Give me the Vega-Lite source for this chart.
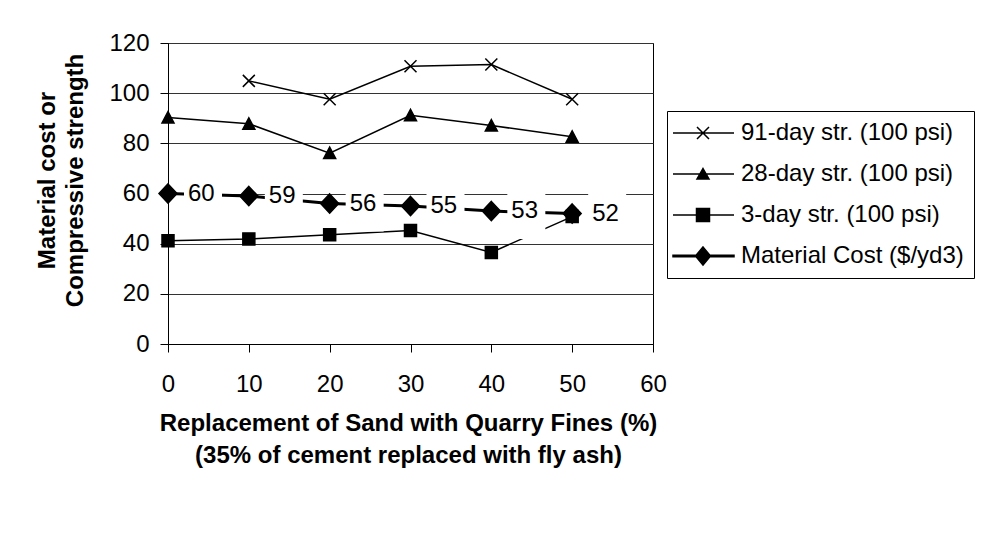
{
  "$schema": "https://vega.github.io/schema/vega-lite/v6.json",
  "autosize": {"type": "none"},
  "width": 485,
  "height": 301,
  "padding": {"left": 168, "top": 43, "right": 343, "bottom": 202},
  "background": "white",
  "config": {
    "font": "Liberation Sans",
    "view": {"stroke": "black", "strokeWidth": 1},
    "axis": {
      "domainColor": "black",
      "tickColor": "black",
      "tickSize": 8,
      "labelFontSize": 24,
      "labelColor": "black",
      "labelFont": "Liberation Sans",
      "labelFlush": false,
      "labelOverlap": false,
      "titleFontSize": 24,
      "titleFontWeight": "bold",
      "titleColor": "black",
      "titleFont": "Liberation Sans"
    },
    "legend": {
      "title": null,
      "orient": "none",
      "legendX": 499,
      "legendY": 68,
      "padding": 10,
      "strokeColor": "black",
      "fillColor": "white",
      "labelFontSize": 24,
      "labelFont": "Liberation Sans",
      "labelColor": "black",
      "labelOffset": 40,
      "labelLimit": 400,
      "rowPadding": 17,
      "symbolSize": 400,
      "symbolStrokeWidth": 1.5,
      "symbolFillColor": "black",
      "symbolOpacity": 1
    }
  },
  "data": {
    "values": [
      {"pct": 10, "series": "91-day str. (100 psi)", "value": 104.9},
      {"pct": 20, "series": "91-day str. (100 psi)", "value": 97.6},
      {"pct": 30, "series": "91-day str. (100 psi)", "value": 110.7},
      {"pct": 40, "series": "91-day str. (100 psi)", "value": 111.4},
      {"pct": 50, "series": "91-day str. (100 psi)", "value": 97.6},
      {"pct": 0, "series": "28-day str. (100 psi)", "value": 90.3},
      {"pct": 10, "series": "28-day str. (100 psi)", "value": 87.8},
      {"pct": 20, "series": "28-day str. (100 psi)", "value": 76.1},
      {"pct": 30, "series": "28-day str. (100 psi)", "value": 91.2},
      {"pct": 40, "series": "28-day str. (100 psi)", "value": 87.1},
      {"pct": 50, "series": "28-day str. (100 psi)", "value": 82.6},
      {"pct": 0, "series": "3-day str. (100 psi)", "value": 41.2},
      {"pct": 10, "series": "3-day str. (100 psi)", "value": 41.9},
      {"pct": 20, "series": "3-day str. (100 psi)", "value": 43.6},
      {"pct": 30, "series": "3-day str. (100 psi)", "value": 45.2},
      {"pct": 40, "series": "3-day str. (100 psi)", "value": 36.5},
      {"pct": 50, "series": "3-day str. (100 psi)", "value": 50.8},
      {"pct": 0, "series": "Material Cost ($/yd3)", "value": 60},
      {"pct": 10, "series": "Material Cost ($/yd3)", "value": 59},
      {"pct": 20, "series": "Material Cost ($/yd3)", "value": 56},
      {"pct": 30, "series": "Material Cost ($/yd3)", "value": 55},
      {"pct": 40, "series": "Material Cost ($/yd3)", "value": 53},
      {"pct": 50, "series": "Material Cost ($/yd3)", "value": 52}
    ]
  },
  "encoding": {
    "x": {
      "field": "pct",
      "type": "quantitative",
      "scale": {"domain": [0, 60], "nice": false, "zero": false},
      "axis": {
        "title": ["Replacement of Sand with Quarry Fines (%)", "(35% of cement replaced with fly ash)"],
        "values": [0, 10, 20, 30, 40, 50, 60],
        "grid": false,
        "labelPadding": 20,
        "titleBaseline": "alphabetic",
        "titleLineHeight": 32,
        "titleY": 86,
        "titleX": 240
      }
    },
    "y": {
      "field": "value",
      "type": "quantitative",
      "scale": {"domain": [0, 120], "nice": false},
      "axis": {
        "title": ["Material cost or", "Compressive strength"],
        "values": [0, 20, 40, 60, 80, 100, 120],
        "grid": true,
        "gridColor": "#333333",
        "gridWidth": 1,
        "labelPadding": 11,
        "titleAngle": 270,
        "titleAlign": "center",
        "titleBaseline": "alphabetic",
        "titleLineHeight": 28,
        "titleX": -114,
        "titleY": 137
      }
    }
  },
  "resolve": {
    "scale": {"shape": "independent", "stroke": "independent"},
    "legend": {"shape": "independent", "stroke": "independent"}
  },
  "layer": [
    {
      "mark": {"type": "line", "color": "black"},
      "encoding": {
        "detail": {"field": "series"},
        "strokeWidth": {
          "condition": {"test": "datum.series === 'Material Cost ($/yd3)'", "value": 3},
          "value": 1.5
        }
      }
    },
    {
      "transform": [{"filter": "datum.series === 'Material Cost ($/yd3)'"}],
      "mark": {
        "type": "point",
        "shape": "M3.2,-5H10.8V5.6H3.2Z",
        "filled": true,
        "fill": "white",
        "strokeWidth": 0,
        "opacity": 1,
        "size": 100
      }
    },
    {
      "mark": {
        "type": "point",
        "filled": true,
        "color": "black",
        "stroke": "black",
        "strokeWidth": 1.5,
        "opacity": 1,
        "size": 144
      },
      "encoding": {
        "shape": {
          "field": "series",
          "type": "nominal",
          "scale": {
            "domain": ["91-day str. (100 psi)", "28-day str. (100 psi)", "3-day str. (100 psi)", "Material Cost ($/yd3)"],
            "range": ["M-1,-1L1,1M-1,1L1,-1", "M0,-1L1,0.9L-1,0.9Z", "M-1,-1H1V1H-1Z", "M0,-1.6L1.5,0L0,1.6L-1.5,0Z"]
          },
          "legend": null
        }
      }
    },
    {
      "transform": [{"filter": "false"}],
      "mark": {
        "type": "point",
        "filled": false,
        "fill": "black",
        "opacity": 1,
        "strokeOpacity": 1,
        "strokeWidth": 1.5,
        "size": 400
      },
      "encoding": {
        "shape": {
          "field": "series",
          "type": "nominal",
          "scale": {
            "domain": ["91-day str. (100 psi)", "28-day str. (100 psi)", "3-day str. (100 psi)", "Material Cost ($/yd3)"],
            "range": [
              "M-1.6,0H4.5M0.8,-0.6L2,0.6M0.8,0.6L2,-0.6",
              "M-1.6,0H4.5M1.4,-0.55L2,0.5L0.8,0.5Z",
              "M-1.6,0H4.5M0.75,-0.65H2.05V0.65H0.75Z",
              "M-1.6,-0.08H4.5V0.08H-1.6ZM1.4,-0.9L2.15,0L1.4,0.9L0.65,0Z"
            ]
          }
        },
        "stroke": {
          "field": "series",
          "type": "nominal",
          "scale": {
            "domain": ["91-day str. (100 psi)", "28-day str. (100 psi)", "3-day str. (100 psi)", "Material Cost ($/yd3)"],
            "range": ["black", "black", "black", "black"]
          }
        }
      }
    },
    {
      "transform": [{"filter": "datum.series === 'Material Cost ($/yd3)'"}],
      "mark": {"type": "text", "align": "left", "baseline": "middle", "dx": 20, "fontSize": 24, "color": "black", "font": "Liberation Sans"},
      "encoding": {"text": {"field": "value", "type": "quantitative"}}
    }
  ]
}
